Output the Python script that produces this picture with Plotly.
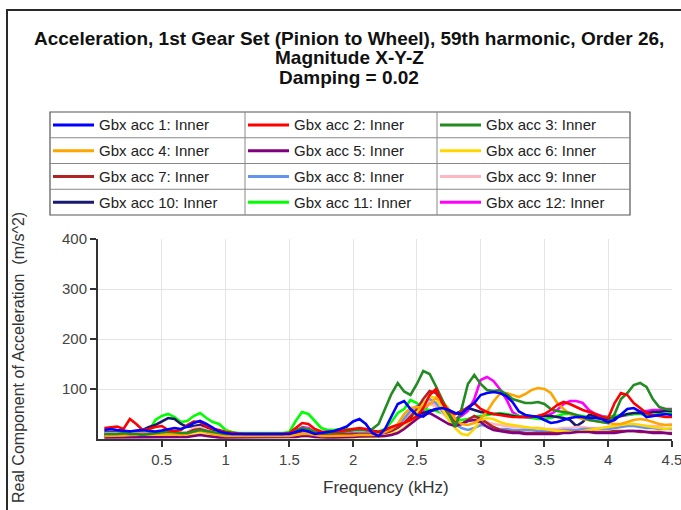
import plotly.graph_objects as go

# ---------------- data ----------------
freq_khz = [0.05, 0.10, 0.15, 0.20, 0.25, 0.30, 0.35, 0.40, 0.45, 0.50,
            0.55, 0.60, 0.65, 0.70, 0.75, 0.80, 0.85, 0.90, 0.95, 1.00,
            1.05, 1.10, 1.15, 1.20, 1.25, 1.30, 1.35, 1.40, 1.45, 1.50,
            1.55, 1.60, 1.65, 1.70, 1.75, 1.80, 1.85, 1.90, 1.95, 2.00,
            2.05, 2.10, 2.15, 2.20, 2.25, 2.30, 2.35, 2.40, 2.45, 2.50,
            2.55, 2.60, 2.65, 2.70, 2.75, 2.80, 2.85, 2.90, 2.95, 3.00,
            3.05, 3.10, 3.15, 3.20, 3.25, 3.30, 3.35, 3.40, 3.45, 3.50,
            3.55, 3.60, 3.65, 3.70, 3.75, 3.80, 3.85, 3.90, 3.95, 4.00,
            4.05, 4.10, 4.15, 4.20, 4.25, 4.30, 4.35, 4.40, 4.45, 4.50]

gbx_acc_1 = [18, 20, 18, 17, 15, 17, 18, 16, 15, 17,
             20, 22, 20, 25, 32, 36, 30, 22, 15, 12,
             10, 10, 10, 10, 10, 10, 10, 10, 10, 10,
             14, 18, 15, 10, 12, 14, 16, 20, 25, 35,
             40, 30, 12, 6, 20, 45, 70, 76, 60, 48,
             45, 55, 60, 62, 58, 52, 50, 62, 72, 88,
             92, 94, 92, 86, 74, 55, 48, 46, 44, 38,
             32, 34, 38, 42, 44, 44, 42, 42, 40, 34,
             38, 50, 60, 62, 55, 44, 46, 48, 50, 48]
gbx_acc_2 = [22, 24, 25, 20, 40, 30, 18, 20, 24, 26,
             18, 16, 18, 28, 35, 34, 25, 20, 18, 14,
             12, 11, 10, 10, 10, 10, 10, 10, 10, 12,
             22, 32, 30, 20, 15, 14, 14, 16, 18, 20,
             22, 20, 16, 14, 18, 24, 28, 32, 38, 45,
             62, 88, 100, 72, 56, 50, 54, 64, 72, 60,
             54, 50, 48, 46, 44, 44, 44, 44, 46, 50,
             58, 68, 74, 70, 64, 58, 54, 50, 44, 42,
             72, 92, 88, 72, 62, 52, 48, 46, 44, 44]
gbx_acc_3 = [10, 10, 10, 12, 10, 10, 8, 10, 12, 14,
             15, 14, 12, 12, 15, 18, 16, 14, 12, 10,
             10, 10, 10, 10, 10, 10, 10, 10, 10, 12,
             18, 22, 20, 14, 12, 12, 12, 14, 16, 18,
             18, 18, 20, 30, 60, 90, 112, 95, 88, 110,
             136, 130, 105, 78, 50, 24, 60, 110, 128, 110,
             98, 96, 98, 90, 80, 76, 72, 72, 74, 70,
             60, 56, 54, 52, 48, 44, 38, 36, 34, 32,
             50, 80, 92, 108, 112, 104, 80, 64, 60, 58]
gbx_acc_4 = [6, 6, 6, 7, 8, 8, 8, 9, 10, 10,
             10, 9, 8, 10, 14, 16, 14, 10, 8, 6,
             6, 6, 6, 6, 6, 6, 6, 6, 6, 6,
             8, 10, 10, 8, 6, 6, 6, 6, 6, 7,
             8, 8, 8, 10, 14, 20, 30, 50, 62, 64,
             62, 70, 82, 76, 60, 40, 30, 28, 32, 40,
             55, 75, 90, 92, 88, 84, 90, 98, 102, 100,
             92, 72, 60, 50, 44, 40, 38, 36, 34, 32,
             30, 30, 34, 38, 40, 38, 34, 30, 28, 28]
gbx_acc_5 = [3, 3, 3, 3, 3, 3, 3, 3, 3, 3,
             3, 3, 3, 4, 6, 8, 6, 4, 3, 3,
             3, 3, 3, 3, 3, 3, 3, 3, 3, 3,
             4, 6, 6, 4, 3, 3, 3, 3, 3, 4,
             5, 5, 5, 5, 6, 8, 12, 20, 30, 40,
             48, 52, 45, 38, 30, 26, 30, 36, 38, 34,
             24, 18, 16, 14, 12, 12, 10, 10, 10, 10,
             10, 10, 12, 12, 14, 14, 14, 12, 12, 12,
             12, 14, 16, 16, 16, 14, 12, 12, 12, 10]
gbx_acc_6 = [4, 4, 4, 5, 5, 6, 6, 6, 6, 6,
             6, 6, 6, 6, 8, 10, 8, 6, 5, 4,
             4, 4, 4, 4, 4, 4, 4, 4, 4, 4,
             5, 6, 6, 5, 4, 4, 4, 4, 4, 5,
             5, 5, 5, 4, 6, 10, 14, 22, 34, 52,
             70, 85, 82, 60, 38, 22, 10, 8, 20, 38,
             42, 40, 34, 30, 28, 26, 24, 22, 22, 20,
             18, 16, 16, 14, 14, 16, 18, 20, 22, 24,
             26, 28, 30, 30, 28, 26, 24, 22, 20, 22]
gbx_acc_7 = [8, 8, 9, 9, 10, 10, 10, 10, 10, 10,
             10, 10, 10, 12, 18, 20, 16, 12, 10, 8,
             8, 8, 8, 8, 8, 8, 8, 8, 8, 8,
             12, 16, 16, 12, 10, 9, 9, 10, 10, 10,
             10, 10, 10, 10, 12, 16, 22, 32, 45, 60,
             80, 96, 92, 70, 50, 36, 30, 38, 46, 40,
             32, 24, 18, 16, 14, 14, 12, 12, 12, 12,
             12, 12, 14, 14, 14, 16, 16, 14, 14, 14,
             16, 16, 16, 16, 14, 14, 14, 14, 12, 12]
gbx_acc_8 = [10, 10, 10, 10, 10, 10, 10, 10, 10, 10,
             10, 10, 10, 12, 16, 18, 14, 10, 8, 8,
             8, 8, 8, 8, 8, 8, 8, 8, 8, 8,
             12, 16, 15, 12, 10, 9, 9, 10, 10, 12,
             12, 12, 12, 12, 14, 18, 26, 40, 56, 66,
             72, 80, 72, 56, 42, 30, 22, 18, 22, 28,
             26, 22, 20, 20, 18, 18, 18, 18, 16, 16,
             16, 16, 18, 18, 18, 20, 20, 20, 20, 20,
             22, 24, 26, 26, 24, 22, 22, 20, 20, 20]
gbx_acc_9 = [12, 12, 12, 12, 12, 12, 12, 12, 12, 12,
             12, 12, 12, 14, 22, 24, 18, 14, 12, 10,
             10, 10, 10, 10, 10, 10, 10, 10, 10, 10,
             14, 22, 20, 14, 11, 10, 10, 10, 10, 10,
             10, 10, 10, 10, 12, 16, 24, 38, 50, 56,
             62, 70, 66, 52, 40, 32, 30, 36, 40, 38,
             34, 30, 28, 26, 24, 24, 22, 22, 22, 20,
             20, 20, 22, 22, 24, 24, 22, 22, 22, 24,
             26, 28, 30, 30, 28, 26, 26, 26, 28, 30]
gbx_acc_10 = [14, 14, 15, 16, 16, 15, 18, 24, 28, 35,
              42, 40, 30, 24, 26, 28, 24, 18, 14, 12,
              10, 10, 10, 10, 10, 10, 10, 10, 10, 10,
              14, 20, 18, 14, 12, 12, 12, 14, 16, 18,
              20, 18, 16, 14, 16, 20, 26, 34, 42, 50,
              52, 56, 60, 58, 52, 50, 56, 62, 58, 54,
              52, 50, 50, 48, 46, 44, 44, 44, 46, 46,
              46, 44, 42, 38, 26, 34, 48, 46, 42, 40,
              42, 46, 50, 52, 52, 52, 54, 54, 56, 56]
gbx_acc_11 = [6, 6, 8, 10, 12, 14, 15, 16, 38, 46,
              50, 44, 34, 36, 46, 52, 42, 34, 30, 18,
              14, 12, 12, 12, 12, 12, 12, 12, 12, 14,
              36, 54, 50, 36, 22, 18, 18, 20, 20, 20,
              20, 18, 16, 15, 20, 34, 52, 60, 78, 72,
              60, 58, 56, 52, 46, 40, 38, 40, 44, 46,
              48, 50, 52, 50, 48, 46, 44, 42, 40, 40,
              42, 46, 50, 50, 48, 46, 44, 44, 44, 44,
              46, 48, 48, 50, 50, 48, 48, 50, 50, 52]
gbx_acc_12 = [10, 10, 10, 10, 10, 10, 10, 10, 10, 10,
              10, 10, 10, 12, 16, 18, 14, 10, 8, 8,
              8, 8, 8, 8, 8, 8, 8, 8, 8, 8,
              14, 24, 22, 14, 10, 9, 9, 10, 10, 12,
              12, 12, 12, 12, 14, 20, 28, 38, 44, 46,
              56, 72, 66, 54, 46, 40, 46, 56, 80, 118,
              124, 116, 100, 80, 54, 46, 44, 44, 44, 46,
              50, 58, 70, 76, 76, 72, 58, 50, 46, 44,
              44, 46, 48, 50, 54, 56, 58, 58, 60, 60]

series_names = ["Gbx acc 1: Inner", "Gbx acc 2: Inner", "Gbx acc 3: Inner",
                "Gbx acc 4: Inner", "Gbx acc 5: Inner", "Gbx acc 6: Inner",
                "Gbx acc 7: Inner", "Gbx acc 8: Inner", "Gbx acc 9: Inner",
                "Gbx acc 10: Inner", "Gbx acc 11: Inner", "Gbx acc 12: Inner"]
series_values = [gbx_acc_1, gbx_acc_2, gbx_acc_3, gbx_acc_4, gbx_acc_5, gbx_acc_6,
                 gbx_acc_7, gbx_acc_8, gbx_acc_9, gbx_acc_10, gbx_acc_11, gbx_acc_12]
series_colors = ["#0000FF", "#FF0000", "#228B22", "#FFA500", "#800080", "#FFD700",
                 "#B22222", "#6495ED", "#FFB6C1", "#191970", "#00FF00", "#FF00FF"]

x_ticks = [0.5, 1, 1.5, 2, 2.5, 3, 3.5, 4, 4.5]
y_ticks = [100, 200, 300, 400]

title_lines = ["Acceleration, 1st Gear Set (Pinion to Wheel), 59th harmonic, Order 26,",
               "Magnitude X-Y-Z", "Damping = 0.02"]
x_title = "Frequency (kHz)"
y_title = "Real Component of Acceleration  (m/s^2)"

# ---------------- geometry ----------------
W, H = 681, 510
L, R, T, B = 98, 9, 239, 71
PW, PH = W - L - R, H - T - B


def px(x):
    return (x - L) / PW


def py(y):
    return (H - B - y) / PH


FONT = "Liberation Sans, Arial, sans-serif"

fig = go.Figure()
for name, vals, col in reversed(list(zip(series_names, series_values, series_colors))):
    fig.add_trace(go.Scatter(x=freq_khz, y=vals, mode="lines", name=name,
                             line=dict(color=col, width=2.6), showlegend=False))

shapes = []
annotations = []

# outer frame (left and top edges visible)
shapes.append(dict(type="line", xref="paper", yref="paper", x0=px(7), x1=px(7),
                   y0=py(10), y1=py(515), line=dict(color="#2a2a2a", width=2)))
shapes.append(dict(type="line", xref="paper", yref="paper", x0=px(6), x1=px(690),
                   y0=py(10), y1=py(10), line=dict(color="#2a2a2a", width=2)))

# manual legend grid
lg_left, lg_right, lg_top, lg_bottom = 50, 630, 112, 215
col_starts = [50, 245, 437, 630]
row_h = (lg_bottom - lg_top) / 4
shapes.append(dict(type="rect", xref="paper", yref="paper", x0=px(lg_left), x1=px(lg_right),
                   y0=py(lg_top), y1=py(lg_bottom), line=dict(color="#555555", width=1.2),
                   fillcolor="rgba(0,0,0,0)"))
for c in col_starts[1:3]:
    shapes.append(dict(type="line", xref="paper", yref="paper", x0=px(c), x1=px(c),
                       y0=py(lg_top), y1=py(lg_bottom), line=dict(color="#888888", width=1)))
for r in range(1, 4):
    yy = lg_top + r * row_h
    shapes.append(dict(type="line", xref="paper", yref="paper", x0=px(lg_left), x1=px(lg_right),
                       y0=py(yy), y1=py(yy), line=dict(color="#888888", width=1)))
for i, (name, col) in enumerate(zip(series_names, series_colors)):
    r, c = divmod(i, 3)
    yc = lg_top + (r + 0.5) * row_h
    x0 = col_starts[c] + 3
    shapes.append(dict(type="line", xref="paper", yref="paper", x0=px(x0), x1=px(x0 + 41),
                       y0=py(yc), y1=py(yc), line=dict(color=col, width=3)))
    annotations.append(dict(xref="paper", yref="paper", x=px(x0 + 44), y=py(yc),
                            text=name, showarrow=False, xanchor="left", yanchor="middle",
                            font=dict(family=FONT, size=15, color="#222222")))

# title
for i, line in enumerate(title_lines):
    annotations.append(dict(xref="paper", yref="paper", x=px(349), y=py(38 + i * 19.5),
                            text="<b>" + line + "</b>", showarrow=False,
                            xanchor="center", yanchor="middle",
                            font=dict(family=FONT, size=19, color="#111111")))

# axis titles
annotations.append(dict(xref="paper", yref="paper", x=px(386), y=py(487), text=x_title,
                        showarrow=False, xanchor="center", yanchor="middle",
                        font=dict(family=FONT, size=17, color="#333333")))
annotations.append(dict(xref="paper", yref="paper", x=px(18), y=py(358), text=y_title,
                        textangle=-90, showarrow=False, xanchor="center", yanchor="middle",
                        font=dict(family=FONT, size=16, color="#333333")))

fig.update_layout(
    width=W, height=H,
    margin=dict(l=L, r=R, t=T, b=B, pad=0, autoexpand=False),
    paper_bgcolor="white", plot_bgcolor="white",
    shapes=shapes, annotations=annotations,
    showlegend=False,
    xaxis=dict(range=[0, 4.5001], tickvals=x_ticks, ticktext=[str(v) for v in x_ticks],
               ticklabeloverflow="allow", automargin=False,
               showgrid=True, gridcolor="#e4e4e4", gridwidth=1, zeroline=False,
               showline=True, linecolor="#333333", linewidth=2,
               ticks="outside", ticklen=6, tickcolor="#333333", tickwidth=1.5,
               tickfont=dict(family=FONT, size=15, color="#444444")),
    yaxis=dict(range=[0, 400.1], tickvals=y_ticks, ticktext=[str(v) for v in y_ticks],
               ticklabeloverflow="allow", automargin=False,
               showgrid=True, gridcolor="#e4e4e4", gridwidth=1, zeroline=False,
               showline=True, linecolor="#333333", linewidth=2,
               ticks="outside", ticklen=6, tickcolor="#333333", tickwidth=1.5,
               tickfont=dict(family=FONT, size=15, color="#444444")),
)

fig.write_html("out.html", config={"displayModeBar": False},
               post_script="document.body.style.margin='0';")
